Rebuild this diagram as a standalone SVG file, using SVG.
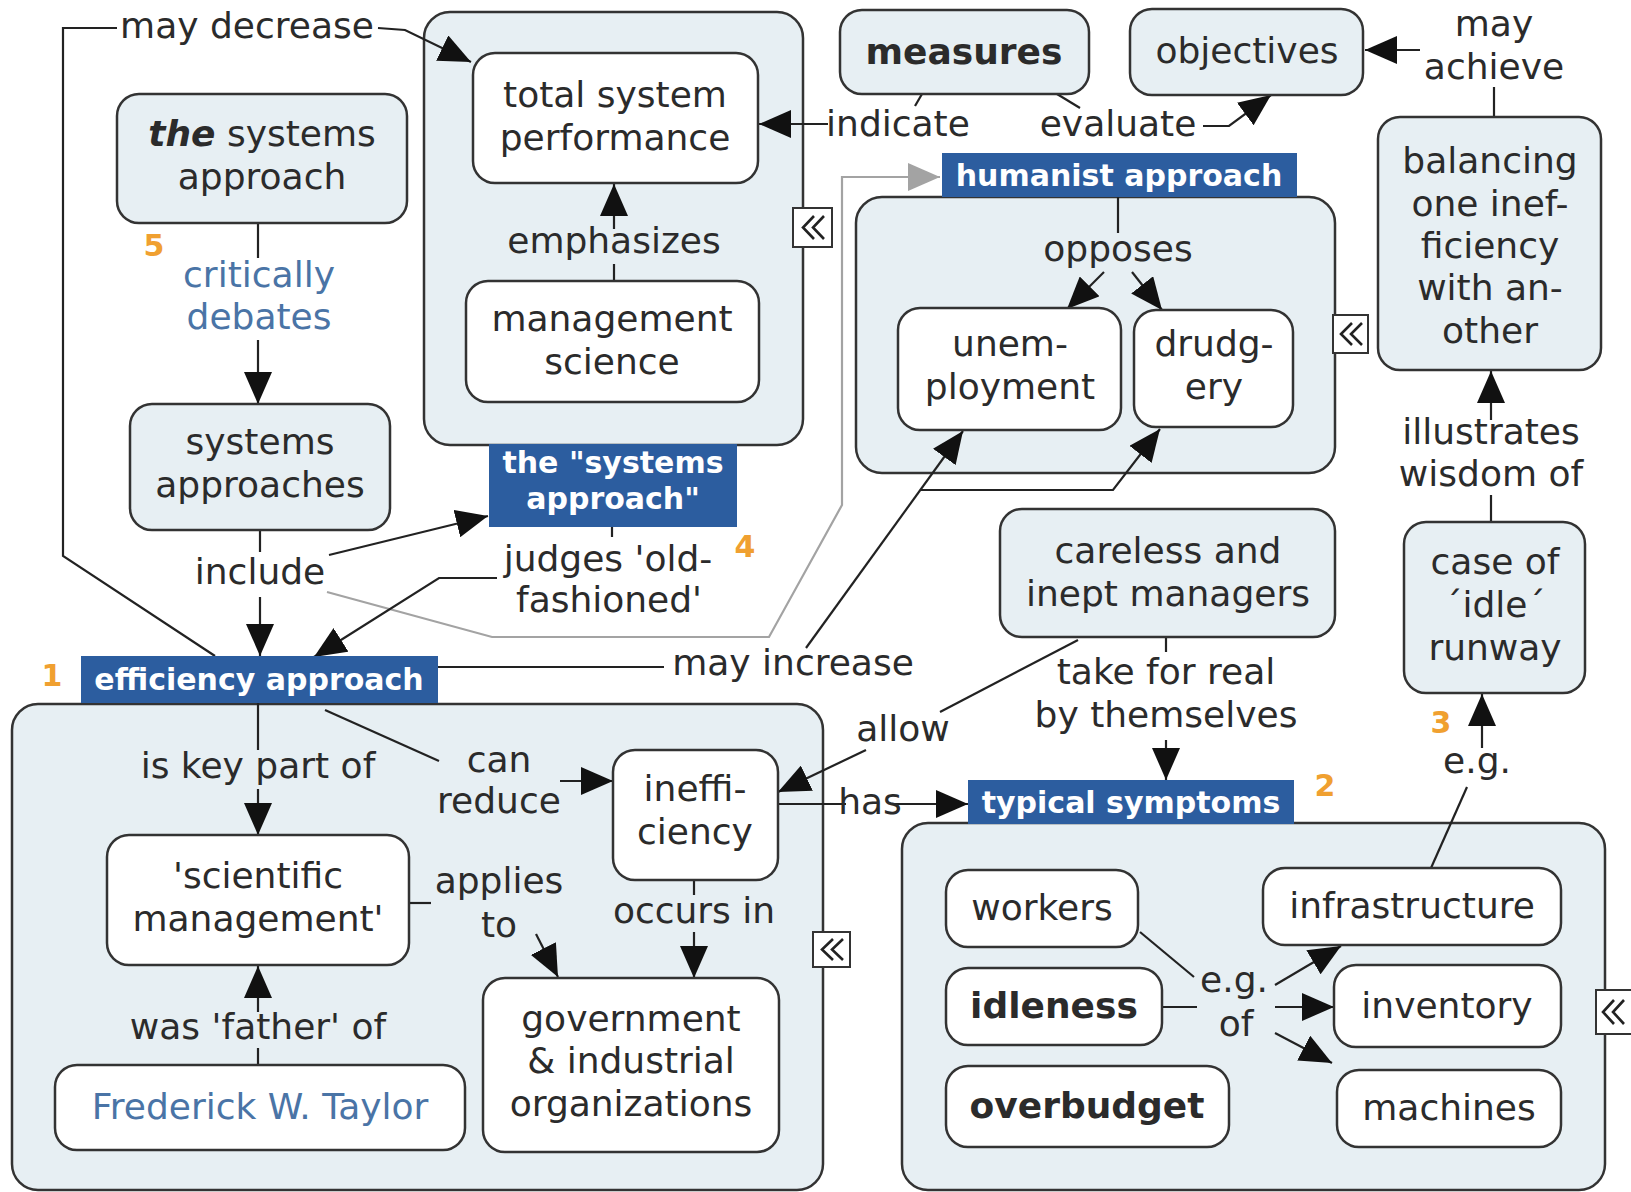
<svg xmlns="http://www.w3.org/2000/svg" width="1631" height="1192" viewBox="0 0 1631 1192">
<style>
text{font-family:"DejaVu Sans",Verdana,"Liberation Sans",sans-serif;font-size:36px;fill:#2b2b2b;text-anchor:middle}
.cont{fill:#e7eff3;stroke:#333;stroke-width:2.5}
.nl{fill:#e7eff3;stroke:#333;stroke-width:2.5}
.nw{fill:#fff;stroke:#333;stroke-width:2.5}
.lb{fill:#2c5d9f}
.lt{font-size:30px;font-weight:bold;fill:#fff}
.num{font-size:30px;font-weight:bold;fill:#f0a030}
.b{font-weight:bold}
.blue{fill:#4a74a6}
.ln{fill:none;stroke:#222;stroke-width:2.2}
.ar{marker-end:url(#ah)}
.gr{fill:none;stroke:#a3a3a3;stroke-width:2.2;marker-end:url(#ahg)}
.ic{fill:#fff;stroke:#333;stroke-width:2}
.ch{fill:none;stroke:#222;stroke-width:2.6}
</style>
<defs>
<marker id="ah" markerUnits="userSpaceOnUse" viewBox="0 0 32 28" markerWidth="32" markerHeight="28" refX="32" refY="14" orient="auto"><path d="M0,0 L32,14 L0,28 z" fill="#111"/></marker>
<marker id="ahg" markerUnits="userSpaceOnUse" viewBox="0 0 32 28" markerWidth="32" markerHeight="28" refX="32" refY="14" orient="auto"><path d="M0,0 L32,14 L0,28 z" fill="#a3a3a3"/></marker>
</defs>
<rect width="1631" height="1192" fill="#fff"/>

<!-- containers -->
<g id="containers">
<rect class="cont" x="424" y="12" width="379" height="433" rx="26"/>
<rect class="cont" x="856" y="197" width="479" height="276" rx="26"/>
<rect class="cont" x="12" y="704" width="811" height="486" rx="26"/>
<rect class="cont" x="902" y="823" width="703" height="367" rx="26"/>
</g>

<!-- connectors -->
<g id="connectors">
<path class="ln" d="M215,656 L63,556 L63,28 L117,28"/>
<path class="ln ar" d="M378,28 L405,30 L471,62"/>
<path class="ln" d="M614,281 L614,264"/>
<path class="ln ar" d="M614,229 L614,184"/>
<path class="ln" d="M922,94 L915,106"/>
<path class="ln ar" d="M828,124 L759,124"/>
<path class="ln" d="M1057,94 L1080,108"/>
<path class="ln ar" d="M1203,126 L1229,126 L1271,95"/>
<path class="ln" d="M1494,117 L1494,87"/>
<path class="ln ar" d="M1420,50 L1365,50"/>
<path class="ln ar" d="M1491,420 L1491,371"/>
<path class="ln" d="M1491,495 L1491,522"/>
<path class="ln ar" d="M1482,748 L1482,694"/>
<path class="ln" d="M1467,787 L1431,868"/>
<path class="ln" d="M258,223 L258,258"/>
<path class="ln ar" d="M258,340 L258,404"/>
<path class="ln" d="M260,530 L260,552"/>
<path class="ln ar" d="M260,597 L260,656"/>
<path class="ln ar" d="M329,555 L488,516"/>
<path class="gr" d="M327,592 L492,637 L769,637 L842,505 L842,177 L940,177"/>
<path class="ln" d="M612,527 L612,537"/>
<path class="ln ar" d="M497,578 L439,578 L314,657"/>
<path class="ln" d="M438,667 L664,667"/>
<path class="ln ar" d="M806,648 L963,431"/>
<path class="ln ar" d="M921,490 L1113,490 L1160,429"/>
<path class="ln" d="M1118,197 L1118,233"/>
<path class="ln ar" d="M1104,272 L1067,309"/>
<path class="ln ar" d="M1132,272 L1162,310"/>
<path class="ln" d="M1166,637 L1166,652"/>
<path class="ln ar" d="M1166,740 L1166,780"/>
<path class="ln" d="M1078,640 L940,712"/>
<path class="ln ar" d="M866,750 L778,792"/>
<path class="ln" d="M258,703 L258,750"/>
<path class="ln ar" d="M258,789 L258,835"/>
<path class="ln" d="M325,710 L439,761"/>
<path class="ln ar" d="M560,781 L613,781"/>
<path class="ln" d="M778,804 L846,804"/>
<path class="ln ar" d="M893,804 L968,804"/>
<path class="ln" d="M409,903 L431,903"/>
<path class="ln ar" d="M536,934 L558,977"/>
<path class="ln" d="M694,880 L694,895"/>
<path class="ln ar" d="M694,932 L694,978"/>
<path class="ln" d="M258,1065 L258,1048"/>
<path class="ln ar" d="M258,1012 L258,966"/>
<path class="ln" d="M1140,932 L1194,977"/>
<path class="ln" d="M1163,1007 L1197,1007"/>
<path class="ln ar" d="M1275,985 L1341,946"/>
<path class="ln ar" d="M1275,1007 L1334,1007"/>
<path class="ln ar" d="M1275,1033 L1332,1063"/>
</g>

<!-- label boxes -->
<g id="efficiency-approach"><rect class="lb" x="81" y="656" width="357" height="47"/><text class="lt" x="259" y="690">efficiency approach</text></g>
<g id="systems-approach-label"><rect class="lb" x="489" y="444" width="248" height="83"/><text class="lt" x="613" y="473">the "systems</text><text class="lt" x="613" y="509">approach"</text></g>
<g id="humanist-approach"><rect class="lb" x="942" y="153" width="355" height="44"/><text class="lt" x="1119" y="186">humanist approach</text></g>
<g id="typical-symptoms"><rect class="lb" x="968" y="780" width="326" height="44"/><text class="lt" x="1131" y="813">typical symptoms</text></g>

<!-- nodes -->
<g id="the-systems-approach"><rect class="nl" x="117" y="94" width="290" height="129" rx="22"/><text x="262" y="146"><tspan font-weight="bold" font-style="italic">the</tspan>  systems</text><text x="262" y="189">approach</text></g>
<g id="systems-approaches"><rect class="nl" x="130" y="404" width="260" height="126" rx="22"/><text x="260" y="454">systems</text><text x="260" y="497">approaches</text></g>
<g id="total-system-performance"><rect class="nw" x="473" y="53" width="285" height="130" rx="22"/><text x="615" y="107">total system</text><text x="615" y="150">performance</text></g>
<g id="management-science"><rect class="nw" x="466" y="281" width="293" height="121" rx="22"/><text x="612" y="331">management</text><text x="612" y="374">science</text></g>
<g id="measures"><rect class="nl" x="840" y="10" width="249" height="84" rx="22"/><text class="b" x="964" y="64">measures</text></g>
<g id="objectives"><rect class="nl" x="1130" y="9" width="233" height="86" rx="22"/><text x="1247" y="63">objectives</text></g>
<g id="balancing"><rect class="nl" x="1378" y="117" width="223" height="253" rx="22"/><text x="1490" y="173">balancing</text><text x="1490" y="216">one inef-</text><text x="1490" y="258">ficiency</text><text x="1490" y="300">with an-</text><text x="1490" y="343">other</text></g>
<g id="idle-runway"><rect class="nl" x="1404" y="522" width="181" height="171" rx="22"/><text x="1495" y="574">case of</text><text x="1495" y="617">´idle´</text><text x="1495" y="660">runway</text></g>
<g id="careless-managers"><rect class="nl" x="1000" y="509" width="335" height="128" rx="22"/><text x="1168" y="563">careless and</text><text x="1168" y="606">inept managers</text></g>
<g id="unemployment"><rect class="nw" x="898" y="308" width="223" height="122" rx="22"/><text x="1010" y="356">unem-</text><text x="1010" y="399">ployment</text></g>
<g id="drudgery"><rect class="nw" x="1134" y="310" width="159" height="117" rx="22"/><text x="1214" y="356">drudg-</text><text x="1214" y="399">ery</text></g>
<g id="inefficiency"><rect class="nw" x="613" y="750" width="165" height="130" rx="22"/><text x="695" y="801">ineffi-</text><text x="695" y="844">ciency</text></g>
<g id="scientific-management"><rect class="nw" x="107" y="835" width="302" height="130" rx="22"/><text x="258" y="888">'scientific</text><text x="258" y="931">management'</text></g>
<g id="organizations"><rect class="nw" x="483" y="978" width="296" height="174" rx="22"/><text x="631" y="1031">government</text><text x="631" y="1073">&amp; industrial</text><text x="631" y="1116">organizations</text></g>
<g id="taylor"><rect class="nw" x="55" y="1065" width="410" height="85" rx="22"/><text class="blue" x="260" y="1119">Frederick W. Taylor</text></g>
<g id="workers"><rect class="nw" x="946" y="870" width="192" height="77" rx="22"/><text x="1042" y="920">workers</text></g>
<g id="idleness"><rect class="nw" x="946" y="968" width="216" height="77" rx="22"/><text class="b" x="1054" y="1018">idleness</text></g>
<g id="overbudget"><rect class="nw" x="946" y="1066" width="283" height="81" rx="22"/><text class="b" x="1087" y="1118">overbudget</text></g>
<g id="infrastructure"><rect class="nw" x="1263" y="868" width="298" height="77" rx="22"/><text x="1412" y="918">infrastructure</text></g>
<g id="inventory"><rect class="nw" x="1334" y="965" width="227" height="82" rx="22"/><text x="1447" y="1018">inventory</text></g>
<g id="machines"><rect class="nw" x="1337" y="1070" width="224" height="77" rx="22"/><text x="1449" y="1120">machines</text></g>

<!-- linking phrases -->
<g id="link-labels">
<text x="247" y="38">may decrease</text>
<text x="614" y="253">emphasizes</text>
<text x="898" y="136">indicate</text>
<text x="1118" y="136">evaluate</text>
<text x="1494" y="36">may</text>
<text x="1494" y="79">achieve</text>
<text x="1491" y="444">illustrates</text>
<text x="1491" y="486">wisdom of</text>
<text x="1477" y="773">e.g.</text>
<text class="blue" x="259" y="287">critically</text>
<text class="blue" x="259" y="329">debates</text>
<text x="260" y="584">include</text>
<text x="608" y="571">judges 'old-</text>
<text x="609" y="612">fashioned'</text>
<text x="793" y="675">may increase</text>
<text x="1118" y="261">opposes</text>
<text x="1166" y="684">take for real</text>
<text x="1166" y="727">by themselves</text>
<text x="903" y="741">allow</text>
<text x="258" y="778">is key part of</text>
<text x="499" y="772">can</text>
<text x="499" y="813">reduce</text>
<text x="870" y="814">has</text>
<text x="499" y="893">applies</text>
<text x="499" y="937">to</text>
<text x="694" y="923">occurs in</text>
<text x="258" y="1039">was 'father' of</text>
<text x="1234" y="992">e.g.</text>
<text x="1236" y="1036">of</text>
</g>

<!-- numbers -->
<g id="numbers">
<text class="num" x="154" y="256">5</text>
<text class="num" x="52" y="686">1</text>
<text class="num" x="745" y="557">4</text>
<text class="num" x="1325" y="796">2</text>
<text class="num" x="1441" y="733">3</text>
</g>

<!-- collapse icons -->
<g id="collapse-icons">
<rect class="ic" x="793" y="208" width="39" height="39"/><path class="ch" d="M814,216 L803,227.5 L814,239 M824,216 L813,227.5 L824,239"/>
<rect class="ic" x="1333" y="315" width="35" height="38"/><path class="ch" d="M1352,323 L1341,334 L1352,345 M1362,323 L1351,334 L1362,345"/>
<rect class="ic" x="813" y="932" width="37" height="35"/><path class="ch" d="M833,939 L822,949.5 L833,960 M843,939 L832,949.5 L843,960"/>
<rect class="ic" x="1596" y="990" width="40" height="44"/><path class="ch" d="M1614,1000 L1603,1012 L1614,1024 M1624,1000 L1613,1012 L1624,1024"/>
</g>
</svg>
